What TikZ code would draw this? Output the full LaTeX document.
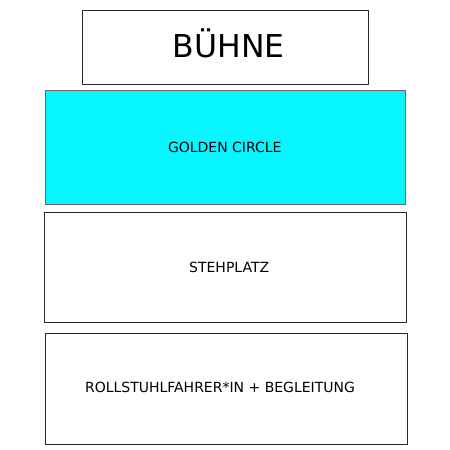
\documentclass[tikz,border=0pt]{standalone}
\usepackage{fontspec}
\setmainfont{DejaVu Sans}
\definecolor{gcyan}{RGB}{6,245,255}
\definecolor{edge}{RGB}{40,40,40}
\begin{document}
\begin{tikzpicture}[x=1pt,y=-1pt,
  zone/.style={draw=edge,line width=1pt},
  lbl/.style={inner sep=0pt,anchor=base,font=\fontsize{14}{16}\selectfont}]
\useasboundingbox (0,0) rectangle (450,450);
\draw[zone] (82.5,10) rectangle (368.5,84);
\draw[zone,fill=gcyan,draw=edge!70] (45.8,90) rectangle (405.5,204.5);
\draw[zone] (44.5,212) rectangle (406.5,322);
\draw[zone] (45.5,333) rectangle (407,444);
\node[inner sep=0pt,anchor=base,font=\fontsize{31.5}{36}\selectfont] (stage) at (228.7,57.3) {BÜHNE};
\node[lbl] (gc) at (224.8,152.3) {GOLDEN CIRCLE};
\node[lbl] (sp) at (229.2,272.3) {STEHPLATZ};
\node[lbl] (rb) at (220,392.7) {ROLLSTUHLFAHRER*IN + BEGLEITUNG};
\end{tikzpicture}
\end{document}
